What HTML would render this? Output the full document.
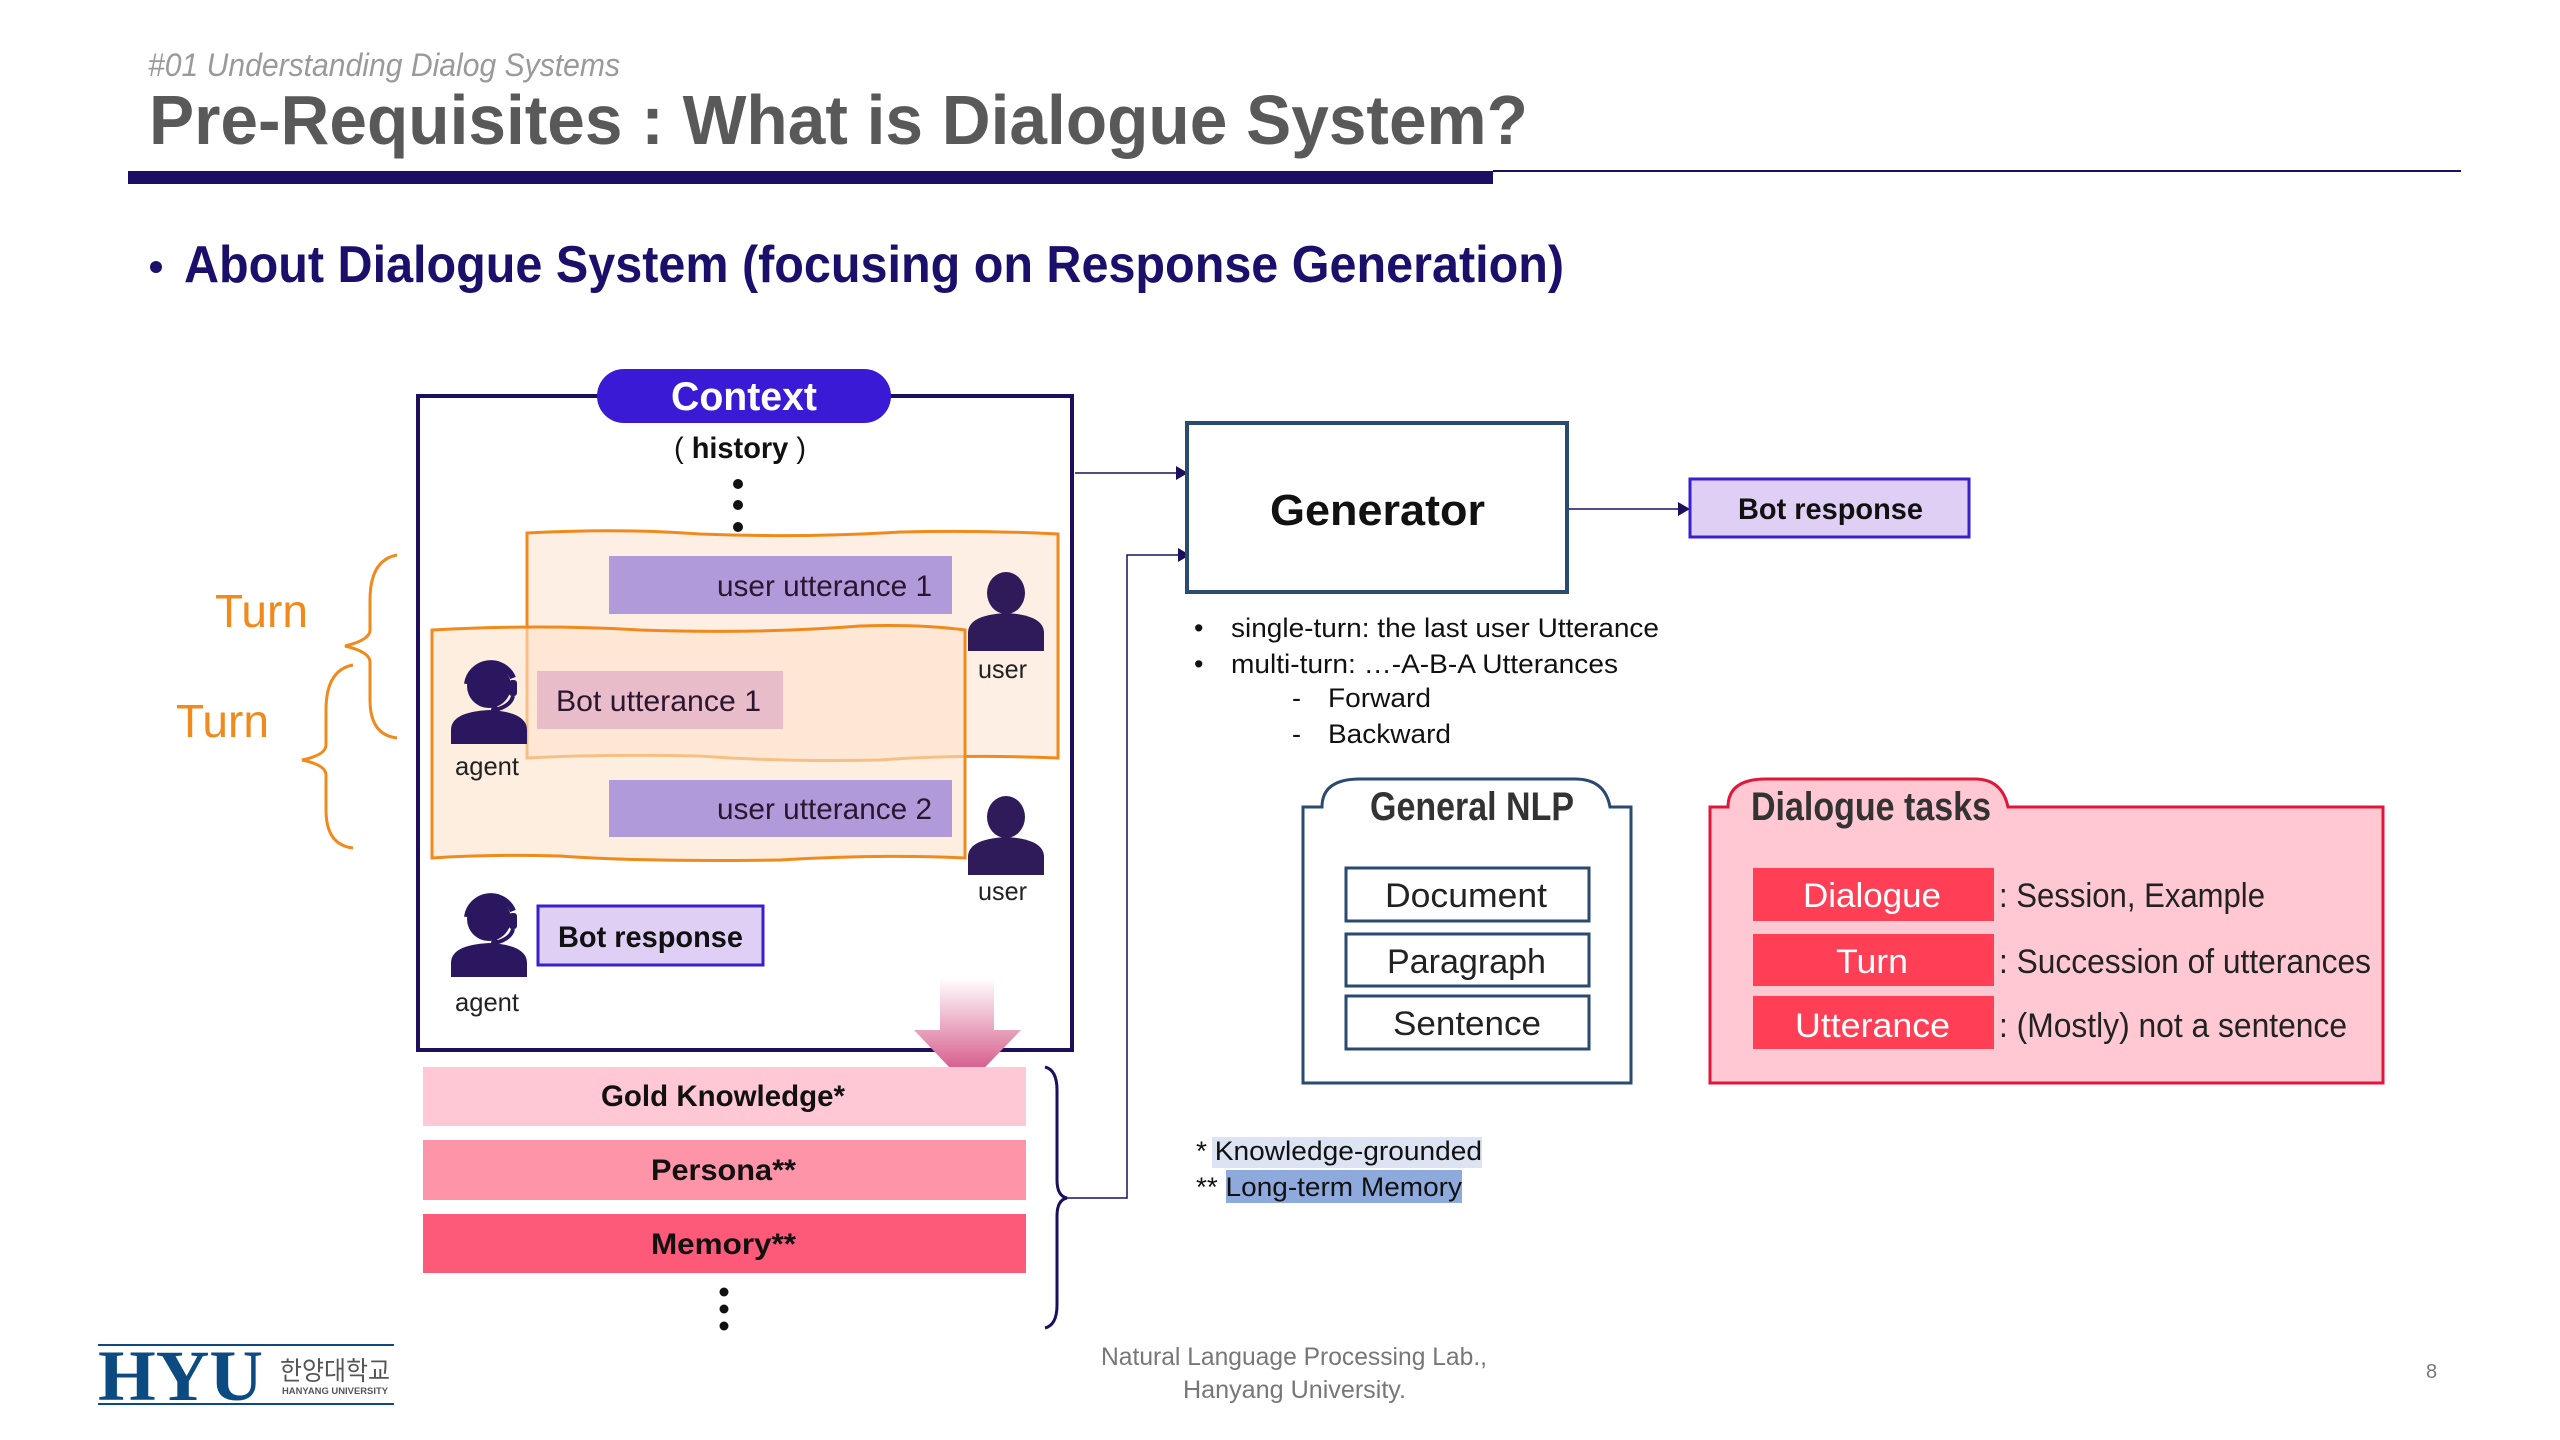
<!DOCTYPE html>
<html><head><meta charset="utf-8"><style>
html,body{margin:0;padding:0;background:#fff;}
svg{display:block;}
text{font-family:"Liberation Sans","Noto Sans CJK KR",sans-serif;}
</style></head><body>
<svg width="2560" height="1440" viewBox="0 0 2560 1440" xmlns="http://www.w3.org/2000/svg">
<defs>
<linearGradient id="ag" x1="0" y1="0" x2="0" y2="1">
<stop offset="0" stop-color="#ffffff"/><stop offset="1" stop-color="#cf3f78"/></linearGradient>
<g id="user"><ellipse cx="38" cy="22" rx="19" ry="21" fill="#2f1a5a"/><path d="M0 80 L0 62 Q0 44 38 42 Q76 44 76 62 L76 80 Z" fill="#2f1a5a"/></g>
<g id="agent"><circle cx="38" cy="30" r="22" fill="#2a1760"/><path d="M16 28 A24 24 0 0 1 62 22" stroke="#2a1760" stroke-width="6" fill="none"/><rect x="58" y="24" width="8" height="16" rx="3" fill="#2a1760"/><path d="M62 40 Q60 50 44 54" stroke="#2a1760" stroke-width="4" fill="none"/><circle cx="44" cy="54" r="4" fill="#2a1760"/><path d="M0 88 L0 74 Q0 56 38 54 Q76 56 76 74 L76 88 Z" fill="#2a1760"/></g>
</defs>

<!-- header -->
<text x="148" y="76" font-size="32" fill="#9a9a9a" font-style="italic" textLength="472" lengthAdjust="spacingAndGlyphs">#01 Understanding Dialog Systems</text>
<text x="149" y="144" font-size="70" font-weight="bold" fill="#595959" textLength="1379" lengthAdjust="spacingAndGlyphs">Pre-Requisites : What is Dialogue System?</text>
<rect x="128" y="171" width="1365" height="13" fill="#1d0e63"/>
<rect x="1493" y="170" width="968" height="2" fill="#1d0e63"/>
<circle cx="156" cy="267" r="6" fill="#1a0f6b"/>
<text x="184" y="282" font-size="52" font-weight="bold" fill="#1a0f6b" textLength="1380" lengthAdjust="spacingAndGlyphs">About Dialogue System (focusing on Response Generation)</text>

<!-- context box -->
<rect x="418" y="396" width="654" height="654" fill="none" stroke="#1d0e5e" stroke-width="4"/>
<rect x="597" y="369" width="294" height="54" rx="27" fill="#3b1ad6"/>
<text x="671" y="410" font-size="40" font-weight="bold" fill="#fff" textLength="146" lengthAdjust="spacingAndGlyphs">Context</text>
<text x="674" y="458" font-size="30" fill="#111" textLength="132" lengthAdjust="spacingAndGlyphs">( <tspan font-weight="bold">history</tspan> )</text>
<circle cx="738" cy="484" r="5" fill="#111"/><circle cx="738" cy="505" r="5" fill="#111"/><circle cx="738" cy="527" r="5" fill="#111"/>

<!-- orange boxes -->
<path d="M527 533 Q620 528 700 534 Q800 538 900 532 Q980 530 1058 534 L1058 758 Q960 754 880 760 Q780 762 700 756 Q600 754 527 758 Z" fill="#fdeadb" fill-opacity="0.75" stroke="#f08a1d" stroke-width="3"/>
<path d="M432 630 Q540 624 640 630 Q760 634 860 626 Q920 624 965 630 L965 858 Q880 854 780 860 Q640 862 560 856 Q490 854 432 858 Z" fill="#fde3cc" fill-opacity="0.6" stroke="#f08a1d" stroke-width="3"/>

<rect x="609" y="556" width="343" height="58" fill="#b09ad9"/>
<text x="717" y="596" font-size="30" fill="#2a1630" textLength="215" lengthAdjust="spacingAndGlyphs">user utterance 1</text>
<rect x="537" y="671" width="246" height="58" fill="#e8bcc8"/>
<text x="556" y="711" font-size="30" fill="#2a1630" textLength="205" lengthAdjust="spacingAndGlyphs">Bot utterance 1</text>
<rect x="609" y="780" width="343" height="57" fill="#b09ad9"/>
<text x="717" y="819" font-size="30" fill="#2a1630" textLength="215" lengthAdjust="spacingAndGlyphs">user utterance 2</text>
<rect x="538" y="906" width="225" height="59" fill="#e0cff5" stroke="#3a1fd0" stroke-width="3"/>
<text x="558" y="947" font-size="30" font-weight="bold" fill="#111" textLength="185" lengthAdjust="spacingAndGlyphs">Bot response</text>

<use href="#user" x="968" y="571"/>
<text x="978" y="678" font-size="26" fill="#222" textLength="49" lengthAdjust="spacingAndGlyphs">user</text>
<use href="#user" x="968" y="795" />
<text x="978" y="900" font-size="26" fill="#222" textLength="49" lengthAdjust="spacingAndGlyphs">user</text>
<use href="#agent" x="451" y="656"/>
<text x="455" y="775" font-size="26" fill="#222" textLength="64" lengthAdjust="spacingAndGlyphs">agent</text>
<use href="#agent" x="451" y="889"/>
<text x="455" y="1011" font-size="26" fill="#222" textLength="64" lengthAdjust="spacingAndGlyphs">agent</text>

<!-- turns -->
<text x="215" y="627" font-size="46" fill="#f08a1d" textLength="93" lengthAdjust="spacingAndGlyphs">Turn</text>
<text x="176" y="737" font-size="46" fill="#f08a1d" textLength="93" lengthAdjust="spacingAndGlyphs">Turn</text>
<path d="M397 555 Q370 560 370 600 L370 630 Q370 640 345 646 Q370 652 370 662 L370 700 Q370 735 397 738" fill="none" stroke="#f08a1d" stroke-width="3"/>
<path d="M353 665 Q326 670 326 710 L326 745 Q326 755 302 760 Q326 765 326 775 L326 810 Q326 845 353 848" fill="none" stroke="#f08a1d" stroke-width="3"/>

<!-- pink arrow -->
<path d="M940 978 L994 978 L994 1030 L1021 1030 L967 1086 L914 1030 L940 1030 Z" fill="url(#ag)"/>

<!-- knowledge -->
<rect x="423" y="1067" width="603" height="59" fill="#ffc8d4"/>
<text x="601" y="1106" font-size="30" font-weight="bold" fill="#111" textLength="244" lengthAdjust="spacingAndGlyphs">Gold Knowledge*</text>
<rect x="423" y="1140" width="603" height="60" fill="#fd94a8"/>
<text x="651" y="1180" font-size="30" font-weight="bold" fill="#111" textLength="145" lengthAdjust="spacingAndGlyphs">Persona**</text>
<rect x="423" y="1214" width="603" height="59" fill="#fd5a7a"/>
<text x="651" y="1254" font-size="30" font-weight="bold" fill="#111" textLength="145" lengthAdjust="spacingAndGlyphs">Memory**</text>
<circle cx="724" cy="1292" r="4.5" fill="#111"/><circle cx="724" cy="1309" r="4.5" fill="#111"/><circle cx="724" cy="1326" r="4.5" fill="#111"/>
<path d="M1045 1067 Q1057 1070 1057 1090 L1057 1180 Q1057 1196 1067 1198 Q1057 1200 1057 1216 L1057 1305 Q1057 1325 1045 1328" fill="none" stroke="#1d0e5e" stroke-width="3"/>

<!-- connectors -->
<polyline points="1067,1198 1127,1198 1127,555 1180,555" fill="none" stroke="#1d0e5e" stroke-width="1.5"/>
<path d="M1178 548 L1190 555 L1178 562 Z" fill="#1d0e5e"/>
<line x1="1075" y1="473" x2="1180" y2="473" stroke="#1d0e5e" stroke-width="1.5"/>
<path d="M1176 466 L1188 473 L1176 480 Z" fill="#1d0e5e"/>

<!-- generator -->
<rect x="1187" y="423" width="380" height="169" fill="#fff" stroke="#2a4a70" stroke-width="4"/>
<text x="1270" y="525" font-size="44" font-weight="bold" fill="#111" textLength="215" lengthAdjust="spacingAndGlyphs">Generator</text>
<line x1="1569" y1="509" x2="1682" y2="509" stroke="#1d0e5e" stroke-width="1.5"/>
<path d="M1678 502 L1690 509 L1678 516 Z" fill="#1d0e5e"/>
<rect x="1690" y="479" width="279" height="58" fill="#e0cff5" stroke="#3a1fd0" stroke-width="3"/>
<text x="1738" y="519" font-size="30" font-weight="bold" fill="#111" textLength="185" lengthAdjust="spacingAndGlyphs">Bot response</text>

<g font-size="27" fill="#111">
<text x="1194" y="637">•</text>
<text x="1231" y="637" textLength="428" lengthAdjust="spacingAndGlyphs">single-turn: the last user Utterance</text>
<text x="1194" y="673">•</text>
<text x="1231" y="673" textLength="387" lengthAdjust="spacingAndGlyphs">multi-turn: …-A-B-A Utterances</text>
<text x="1292" y="707">-</text>
<text x="1328" y="707" textLength="103" lengthAdjust="spacingAndGlyphs">Forward</text>
<text x="1292" y="743">-</text>
<text x="1328" y="743" textLength="123" lengthAdjust="spacingAndGlyphs">Backward</text>
</g>

<!-- General NLP -->
<path d="M1303 1083 L1303 807 L1322 807 Q1322 779 1360 779 L1575 779 Q1605 779 1610 807 L1631 807 L1631 1083 Z" fill="#fff" stroke="#2a4a70" stroke-width="3"/>
<text x="1370" y="820" font-size="40" font-weight="bold" fill="#333" textLength="204" lengthAdjust="spacingAndGlyphs">General NLP</text>
<g fill="#fff" stroke="#2a4a70" stroke-width="3">
<rect x="1346" y="868" width="243" height="53"/><rect x="1346" y="934" width="243" height="52"/><rect x="1346" y="996" width="243" height="53"/></g>
<g font-size="34" fill="#222">
<text x="1385" y="907" textLength="162" lengthAdjust="spacingAndGlyphs">Document</text>
<text x="1387" y="973" textLength="159" lengthAdjust="spacingAndGlyphs">Paragraph</text>
<text x="1393" y="1035" textLength="148" lengthAdjust="spacingAndGlyphs">Sentence</text>
</g>

<!-- Dialogue tasks -->
<path d="M1710 1083 L1710 807 L1728 807 Q1728 779 1766 779 L1975 779 Q2002 779 2008 807 L2383 807 L2383 1083 Z" fill="#ffc8d2" stroke="#e0163a" stroke-width="3"/>
<text x="1751" y="820" font-size="40" font-weight="bold" fill="#333" textLength="240" lengthAdjust="spacingAndGlyphs">Dialogue tasks</text>
<g fill="#ff3f55"><rect x="1753" y="868" width="241" height="53"/><rect x="1753" y="934" width="241" height="52"/><rect x="1753" y="996" width="241" height="53"/></g>
<g font-size="34" fill="#fff">
<text x="1803" y="907" textLength="138" lengthAdjust="spacingAndGlyphs">Dialogue</text>
<text x="1836" y="973" textLength="72" lengthAdjust="spacingAndGlyphs">Turn</text>
<text x="1795" y="1037" textLength="155" lengthAdjust="spacingAndGlyphs">Utterance</text>
</g>
<g font-size="34" fill="#222">
<text x="1999" y="907" textLength="266" lengthAdjust="spacingAndGlyphs">: Session, Example</text>
<text x="1999" y="973" textLength="372" lengthAdjust="spacingAndGlyphs">: Succession of utterances</text>
<text x="1999" y="1037" textLength="348" lengthAdjust="spacingAndGlyphs">: (Mostly) not a sentence</text>
</g>

<!-- footnotes -->
<rect x="1212" y="1137" width="270" height="31" fill="#dce4f4"/>
<rect x="1226" y="1170" width="236" height="33" fill="#8eaadd"/>
<text x="1196" y="1160" font-size="27" fill="#111" textLength="286" lengthAdjust="spacingAndGlyphs">* Knowledge-grounded</text>
<text x="1196" y="1196" font-size="27" fill="#111" textLength="266" lengthAdjust="spacingAndGlyphs">** Long-term Memory</text>

<!-- footer -->
<rect x="98" y="1344" width="296" height="2" fill="#0b4b82"/>
<rect x="98" y="1403" width="296" height="2" fill="#0b4b82"/>
<text x="98" y="1400" font-family="Liberation Serif,serif" font-size="72" font-weight="bold" fill="#0b4b82" textLength="165" lengthAdjust="spacingAndGlyphs" style="font-family:'Liberation Serif',serif">HYU</text>
<text x="280" y="1380" font-size="26" fill="#555" textLength="110" lengthAdjust="spacingAndGlyphs">한양대학교</text>
<text x="282" y="1394" font-size="9" font-weight="bold" fill="#555" textLength="106" lengthAdjust="spacingAndGlyphs">HANYANG UNIVERSITY</text>
<text x="1101" y="1365" font-size="25" fill="#777" textLength="386" lengthAdjust="spacingAndGlyphs">Natural Language Processing Lab.,</text>
<text x="1183" y="1398" font-size="25" fill="#777" textLength="223" lengthAdjust="spacingAndGlyphs">Hanyang University.</text>
<text x="2426" y="1378" font-size="20" fill="#777">8</text>
</svg>
</body></html>
